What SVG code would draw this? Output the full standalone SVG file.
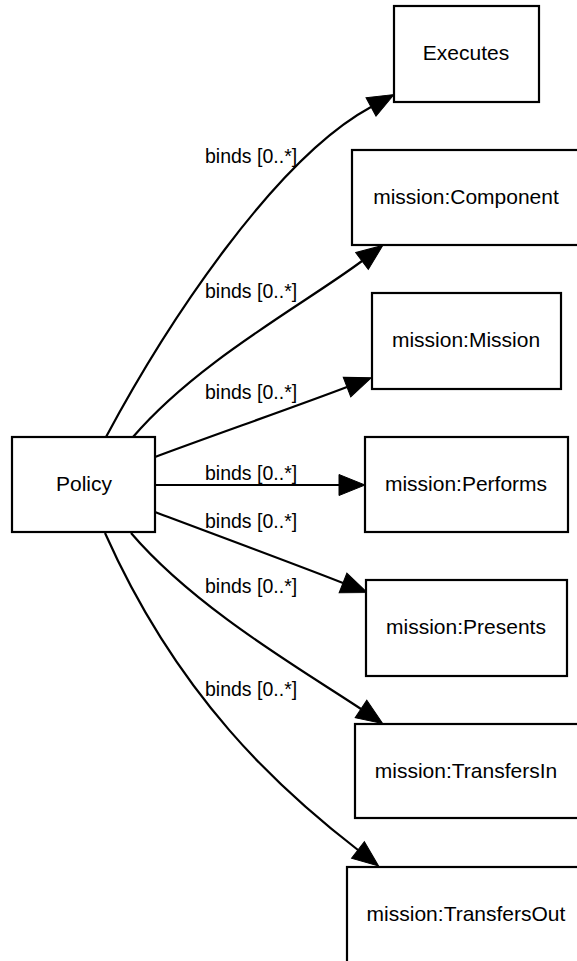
<svg xmlns="http://www.w3.org/2000/svg" width="577" height="961" viewBox="0 0 577 961">
<style>
.node rect{fill:#fff;stroke:#000;stroke-width:2.2}
.node text{font-family:"Liberation Sans",Arial,sans-serif;font-size:21px;text-anchor:middle;fill:#000}
.edge path{fill:none;stroke:#000;stroke-width:2.2}
.lbl{font-family:"Liberation Sans",Arial,sans-serif;font-size:19.5px;fill:#000}
</style>
<defs>
<marker id="arr" markerUnits="userSpaceOnUse" markerWidth="28" markerHeight="24" refX="0" refY="10.5" orient="auto" viewBox="0 0 28 24" overflow="visible">
<path d="M0,0 L26,10.5 L0,21 z" fill="#000" stroke="#000" stroke-width="1"/>
</marker>
</defs>
<rect width="577" height="961" fill="#fff"/>
<g id="edges" class="edge">
<path d="M106,437 C167,323 275,159 371,107" marker-end="url(#arr)"/>
<path d="M133,437 C198,361 306,303 362,261" marker-end="url(#arr)"/>
<path d="M155,457 C200,440 300,405 347,387" marker-end="url(#arr)"/>
<path d="M155,485 L339,485" marker-end="url(#arr)"/>
<path d="M155,512 C200,529 300,566 343,583" marker-end="url(#arr)"/>
<path d="M131,533 C196,609 304,671 361,709" marker-end="url(#arr)"/>
<path d="M105,533 C178,697 279,789 358,850" marker-end="url(#arr)"/>
<text class="lbl" x="205" y="163">binds [0..*]</text>
<text class="lbl" x="205" y="298">binds [0..*]</text>
<text class="lbl" x="205" y="399">binds [0..*]</text>
<text class="lbl" x="205" y="480">binds [0..*]</text>
<text class="lbl" x="205" y="528">binds [0..*]</text>
<text class="lbl" x="205" y="593">binds [0..*]</text>
<text class="lbl" x="205" y="696">binds [0..*]</text>
</g>
<g id="policy" class="node"><rect x="12" y="437" width="143" height="95"/><text x="84" y="491">Policy</text></g>
<g id="executes" class="node"><rect x="394" y="6" width="145" height="96"/><text x="466" y="60">Executes</text></g>
<g id="component" class="node"><rect x="352" y="150" width="228" height="95"/><text x="466" y="204">mission:Component</text></g>
<g id="mission" class="node"><rect x="372" y="293" width="189" height="96"/><text x="466" y="347">mission:Mission</text></g>
<g id="performs" class="node"><rect x="365" y="437" width="203" height="95"/><text x="466" y="491">mission:Performs</text></g>
<g id="presents" class="node"><rect x="366" y="580" width="201" height="96"/><text x="466" y="634">mission:Presents</text></g>
<g id="transfersin" class="node"><rect x="355" y="724" width="224" height="94"/><text x="466" y="778">mission:TransfersIn</text></g>
<g id="transfersout" class="node"><rect x="347" y="867" width="238" height="96"/><text x="466" y="921">mission:TransfersOut</text></g>
</svg>
